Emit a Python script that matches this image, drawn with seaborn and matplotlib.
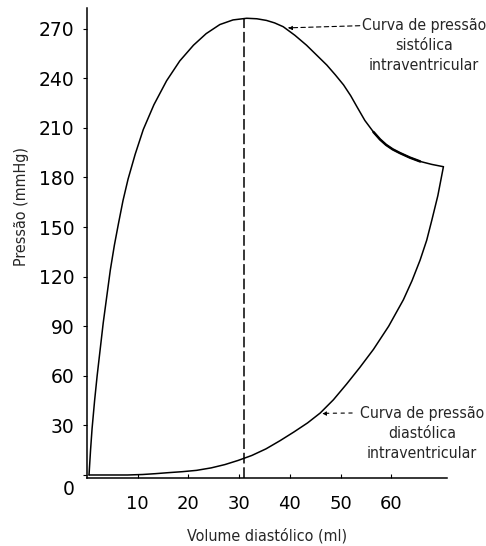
import matplotlib
matplotlib.use("Agg")
import matplotlib.pyplot as plt
import matplotlib.transforms as mtransforms
from matplotlib import font_manager
import pandas as pd
import seaborn as sns

# Systolic (upper) pressure-volume curve
sys_vol = [0.4, 0.7, 1.0, 1.5, 2.0, 2.6, 3.2, 3.9, 4.6, 5.4, 6.2, 7.1, 8.1,
           9.5, 11.1, 13.2, 15.7, 18.3, 21.0, 23.5, 26.2, 28.8, 31.5, 33.5,
           35.4, 37.0, 38.7, 41.0, 43.3, 45.3, 47.3, 49.0, 50.6, 52.0, 53.2,
           54.8, 56.5, 57.8, 59.0, 60.3, 61.7, 63.7, 65.7, 68.0, 70.3]
sys_press = [0, 15, 28, 45, 60, 76, 92, 108, 124, 139, 152, 166, 179,
             194, 209, 224, 238.5, 250.5, 260, 267, 272.5, 275.3, 276.3, 276,
             275, 273.5, 271.2, 266, 260, 254, 248, 242, 236, 229.5, 223,
             214.5, 207.5, 203, 199.7, 197, 194.8, 192, 189.7, 187.9, 186.5]

# Diastolic (lower) pressure-volume curve
dia_vol = [0.4, 4.0, 8.0, 11.0, 13.5, 16.0, 18.8, 21.6, 24.5, 27.2, 29.8,
           32.5, 35.3, 38.1, 40.8, 43.5, 46.0, 48.6, 51.2, 53.8, 56.5, 59.5,
           62.4, 64.1, 65.7, 67.0, 68.0, 69.2, 70.3]
dia_press = [0, 0, 0, 0.3, 0.8, 1.4, 2.0, 2.8, 4.3, 6.3, 8.8,
             11.8, 15.8, 20.8, 26.0, 31.5, 37.5, 45.5, 55.0, 65.0, 76.0, 90.0,
             106.0, 117.5, 130.0, 142.0, 154.0, 169.0, 186.5]

peak_vol = 31.0
peak_press = 276.3

y_ticks = [0, 30, 60, 90, 120, 150, 180, 210, 240, 270]
x_ticks = [10, 20, 30, 40, 50, 60]

sys_label = "Curva de pressão\nsistólica\nintraventricular"
dia_label = "Curva de pressão\ndiastólica\nintraventricular"

sns.set_style("ticks")
plt.rcParams["font.family"] = ["DejaVu Sans"]

# condensed face for the axis titles and notes
narrow = font_manager.FontProperties(family="DejaVu Sans", stretch="condensed",
                                     size=11.3)

fig = plt.figure(figsize=(4.86, 5.46), dpi=100)
ax = fig.add_axes([0.179, 0.124, 0.7407, 0.8613])

systolic = pd.DataFrame({"vol": sys_vol, "press": sys_press})
diastolic = pd.DataFrame({"vol": dia_vol, "press": dia_press})

sns.lineplot(data=systolic, x="vol", y="press", sort=False, estimator=None,
             color="black", linewidth=1.1, ax=ax)
# heavier ink along the late part of the systolic curve
sns.lineplot(data=systolic.query("56 <= vol <= 66"), x="vol", y="press",
             sort=False, estimator=None, color="black", linewidth=1.8, ax=ax)
sns.lineplot(data=diastolic, x="vol", y="press", sort=False, estimator=None,
             color="black", linewidth=1.1, ax=ax)

# dashed line from the systolic peak down to the volume axis
ax.plot([peak_vol, peak_vol], [-2, peak_press], color="black", linewidth=1.1,
        dashes=(7, 2.5))

ax.set_xlim(0, 71)
ax.set_ylim(-2, 282.5)
ax.set_xticks(x_ticks)
ax.set_yticks(y_ticks)
ax.tick_params(axis="x", direction="in", length=3, width=0.8, pad=12,
               labelsize=13, colors="black")
ax.tick_params(axis="y", direction="out", length=3, width=0.8, pad=6,
               labelsize=13.5, colors="black")

for side in ("top", "right"):
    ax.spines[side].set_visible(False)
for side in ("left", "bottom"):
    ax.spines[side].set_linewidth(1.1)
    ax.spines[side].set_color("black")

# the zero label sits a little below its tick
zero_lbl = ax.get_yticklabels()[0]
zero_lbl.set_transform(zero_lbl.get_transform() +
                       mtransforms.ScaledTranslation(0, -9 / 72, fig.dpi_scale_trans))

label_font = narrow.copy()
label_font.set_size(11.5)
ax.set_xlabel("Volume diastólico (ml)", fontproperties=label_font)
ax.set_ylabel("Pressão (mmHg)", fontproperties=label_font)
ax.xaxis.set_label_coords(0.5, -0.105)
ax.yaxis.set_label_coords(-0.16, 0.577)

arrow_style = dict(arrowstyle="-|>", color="black", linewidth=0.8,
                   linestyle=(0, (4, 3)), mutation_scale=6, shrinkA=0, shrinkB=0)

ax.annotate("", xy=(39.6, 270.5), xytext=(53.8, 271.8), arrowprops=arrow_style,
            annotation_clip=False)
ax.text(66.5, 276.5, sys_label, ha="center", va="top", fontproperties=narrow,
        linespacing=1.42, clip_on=False)

ax.annotate("", xy=(46.3, 37.3), xytext=(52.3, 37.5),
            arrowprops=dict(arrow_style, linestyle=(0, (3, 4))),
            annotation_clip=False)
ax.text(66.1, 42.0, dia_label, ha="center", va="top", fontproperties=narrow,
        linespacing=1.42, clip_on=False)

fig.savefig("out.png", dpi=100)
